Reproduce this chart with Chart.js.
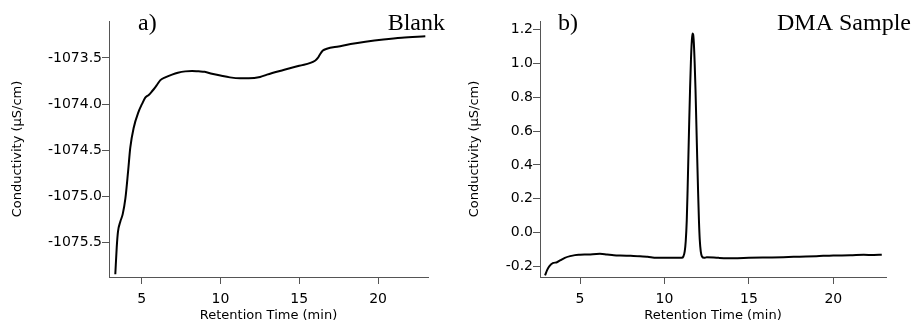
<!DOCTYPE html>
<html>
<head>
<meta charset="utf-8">
<script src="https://cdn.jsdelivr.net/npm/chart.js@4"></script>
<style>
    body { margin: 0; background: #fff; }
    .panel { position: absolute; top: 0; width: 457px; height: 323px; }
    #panelA { left: 0; }
    #panelB { left: 457px; }
</style>
</head>
<body>
<div class="panel" id="panelA"><canvas id="blankChart" width="457" height="323"></canvas></div>
<div class="panel" id="panelB"><canvas id="sampleChart" width="457" height="323"></canvas></div>
<script>
        // -----------------------------
        // DATA
        // -----------------------------
        const timeTicks = [5, 10, 15, 20];

        const blankTime = [3.33, 3.42, 3.50, 3.65, 3.80, 3.97, 4.14, 4.28, 4.49, 4.81, 5.02, 5.23, 5.45, 5.66, 5.85,
            5.98, 6.19, 6.5, 6.93, 7.3, 7.77, 8.2, 8.61, 9.0, 9.46, 10.0, 10.6, 11.25, 11.8, 12.52, 12.95,
            14.0, 15.0, 16.0, 16.18, 16.32, 16.5, 16.75, 17.5, 18.26, 19.2, 20.34, 21.5, 23.0];
        const blankCond = [-1075.84, -1075.55, -1075.38, -1075.27, -1075.19, -1075.02, -1074.73, -1074.47, -1074.26,
            -1074.08, -1074.0, -1073.93, -1073.90, -1073.86, -1073.82, -1073.79, -1073.74, -1073.71, -1073.68,
            -1073.66, -1073.645, -1073.64, -1073.645, -1073.65, -1073.67, -1073.69, -1073.71, -1073.72, -1073.72,
            -1073.705, -1073.68, -1073.63, -1073.585, -1073.53, -1073.50, -1073.46, -1073.42, -1073.40, -1073.375,
            -1073.35, -1073.325, -1073.30, -1073.28, -1073.265];
        const blankYTicks = [-1075.5, -1075.0, -1074.5, -1074.0, -1073.5];

        const sampleTime = [2.93, 3.05, 3.2, 3.42, 3.6, 3.82, 4.1, 4.41, 4.7, 5.0, 5.5, 6.18, 6.6, 7.0, 7.37, 8.0,
            8.55, 9.0, 9.54, 10.0, 10.53, 11.02, 11.12, 11.20, 11.26, 11.32, 11.37, 11.42, 11.47, 11.52, 11.57,
            11.62, 11.66, 11.70, 11.74, 11.79, 11.84, 11.89, 11.94, 11.99, 12.04, 12.09, 12.15, 12.22, 12.35,
            12.5, 13.2, 14.08, 15.0, 16.0, 17.04, 18.0, 19.0, 20.0, 21.0, 21.8, 22.4, 22.87];
        const sampleCond = [-0.252, -0.22, -0.195, -0.178, -0.175, -0.163, -0.148, -0.138, -0.132, -0.130, -0.128,
            -0.124, -0.128, -0.132, -0.134, -0.136, -0.138, -0.142, -0.148, -0.148, -0.148, -0.148, -0.14, -0.11,
            -0.05, 0.07, 0.25, 0.46, 0.67, 0.86, 1.02, 1.13, 1.175, 1.17, 1.12, 1.00, 0.84, 0.64, 0.44, 0.25, 0.08,
            -0.04, -0.11, -0.14, -0.148, -0.145, -0.148, -0.150, -0.148, -0.146, -0.144, -0.141, -0.138, -0.134,
            -0.133, -0.130, -0.131, -0.130];
        const sampleYTicks = [-0.2, 0.0, 0.2, 0.4, 0.6, 0.8, 1.0, 1.2];

        // -----------------------------
        // SHARED STYLE
        // -----------------------------
        const axisColor = "#555";
        const tickFont = { family: "DejaVu Sans", size: 14 };
        const titleFont = { family: "DejaVu Sans", size: 13 };
        const toPoints = (xs, ys) => xs.map((x, i) => ({ x: x, y: ys[i] }));

        // panel labels: "a)" top-left, "Blank" top-right
        const panelLabels = {
            id: "panelLabels",
            afterDraw(chart, args, opts) {
                const c = chart.ctx;
                c.save();
                c.fillStyle = "#000";
                c.font = "24px 'Liberation Serif'";
                c.textBaseline = "alphabetic";
                c.textAlign = "left";
                c.fillText(opts.left, opts.leftX, opts.baseY);
                c.textAlign = "right";
                c.fillText(opts.right, opts.rightX, opts.baseY);
                c.restore();
            }
        };

        function makeChart(id, xs, ys, cfg) {
            const ctx = document.getElementById(id).getContext("2d");
            return new Chart(ctx, {
                type: "line",
                data: {
                    datasets: [{
                        data: toPoints(xs, ys),
                        borderColor: "#000",
                        borderWidth: 2,
                        pointRadius: 0,
                        fill: false,
                        cubicInterpolationMode: "monotone"
                    }]
                },
                options: {
                    responsive: false,
                    animation: false,
                    layout: { padding: { top: 21, right: cfg.padRight, left: 0, bottom: 0 } },
                    plugins: {
                        legend: { display: false },
                        tooltip: { enabled: false },
                        panelLabels: cfg.labels
                    },
                    scales: {
                        x: {
                            type: "linear",
                            min: cfg.xMin,
                            max: cfg.xMax,
                            afterFit: s => { s.height = 46; },
                            afterBuildTicks: s => { s.ticks = timeTicks.map(v => ({ value: v })); },
                            border: { display: true, color: axisColor, width: 1 },
                            grid: { drawOnChartArea: false, drawTicks: true, tickLength: 7, color: axisColor },
                            ticks: { color: "#000", font: tickFont, padding: 7, maxRotation: 0 },
                            title: {
                                display: true,
                                text: "Retention Time (min)",
                                color: "#000",
                                font: titleFont,
                                padding: { top: 0, bottom: 0 }
                            }
                        },
                        y: {
                            min: cfg.yMin,
                            max: cfg.yMax,
                            afterFit: s => { s.width = cfg.yWidth; },
                            afterBuildTicks: s => { s.ticks = cfg.yTicks.map(v => ({ value: v })); },
                            border: { display: true, color: axisColor, width: 1 },
                            grid: { drawOnChartArea: false, drawTicks: true, tickLength: 7, color: axisColor },
                            ticks: {
                                color: "#000",
                                font: tickFont,
                                padding: 0,
                                callback: v => v.toFixed(1)
                            },
                            title: {
                                display: true,
                                text: "Conductivity (µS/cm)",
                                color: "#000",
                                font: titleFont,
                                padding: { top: 10, bottom: 0 }
                            }
                        }
                    }
                },
                plugins: [panelLabels]
            });
        }

        makeChart("blankChart", blankTime, blankCond, {
            xMin: 2.93, xMax: 23.17,
            yMin: -1075.87, yMax: -1073.1,
            yTicks: blankYTicks,
            yWidth: 109,
            padRight: 29,
            labels: { left: "a)", right: "Blank", leftX: 138, rightX: 445, baseY: 30 }
        });

        makeChart("sampleChart", sampleTime, sampleCond, {
            xMin: 2.63, xMax: 23.12,
            yMin: -0.261, yMax: 1.249,
            yTicks: sampleYTicks,
            yWidth: 83,
            padRight: 28,
            labels: { left: "b)", right: "DMA Sample", leftX: 101, rightX: 454, baseY: 30 }
        });
</script>
</body>
</html>
